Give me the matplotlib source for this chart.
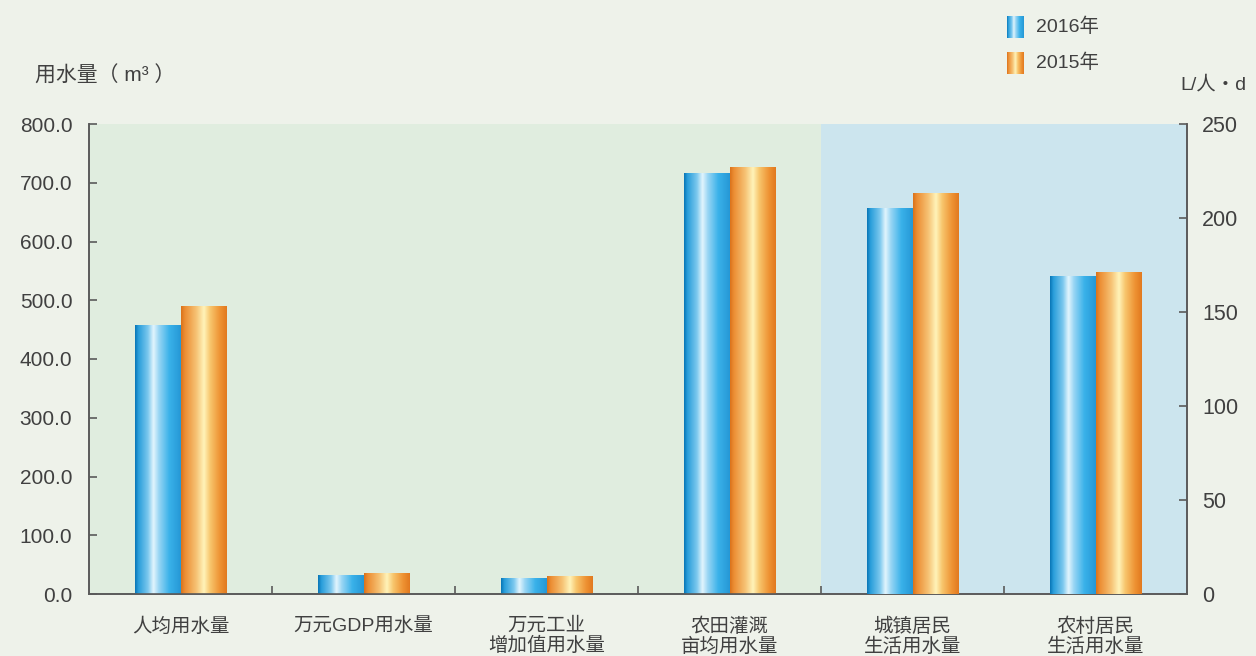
import numpy as np
import matplotlib
matplotlib.use("Agg")
import matplotlib.pyplot as plt
from matplotlib.colors import LinearSegmentedColormap

plt.rcParams['font.family'] = ['Liberation Sans', 'Noto Sans CJK SC', 'DejaVu Sans']

# water use indicators, 2016 vs 2015
categories = ['人均用水量', '万元GDP用水量', '万元工业\n增加值用水量',
              '农田灌溉\n亩均用水量', '城镇居民\n生活用水量', '农村居民\n生活用水量']
use_2016 = [457, 31, 27, 715, 205, 169]
use_2015 = [489, 35, 29, 726, 213, 171]
n_left = 4  # first four in m³, the rest in L/人·d on the right axis

left_ticks = [0, 100, 200, 300, 400, 500, 600, 700, 800]
right_ticks = [0, 50, 100, 150, 200, 250]

text_color = '#404040'
spine_color = '#5a5a5a'
fig_bg = '#eef2ea'
green_bg = '#e0eddf'
blue_bg = '#cce5ee'

blue_cmap = LinearSegmentedColormap.from_list('blue_bar', [
    (0.00, '#0a78b8'), (0.07, '#2a9edb'), (0.28, '#7cc8ee'), (0.40, '#e2f5fd'),
    (0.52, '#9ad6f4'), (0.75, '#3ab2ea'), (1.00, '#2698d6')])
orange_cmap = LinearSegmentedColormap.from_list('orange_bar', [
    (0.00, '#dc741c'), (0.08, '#ec8e34'), (0.33, '#f6c274'), (0.50, '#fff4ba'),
    (0.64, '#f8c56c'), (0.86, '#ee9232'), (1.00, '#e27a20')])
grad = np.linspace(0, 1, 64).reshape(1, -1)


def gradient_bars(ax, bars, cmap):
    for b in bars:
        x, y = b.get_x(), b.get_y()
        w, h = b.get_width(), b.get_height()
        ax.imshow(grad, cmap=cmap, aspect='auto', extent=[x, x + w, y, y + h],
                  interpolation='bilinear', zorder=3)
        b.set_visible(False)


fig = plt.figure(figsize=(12.56, 6.56), dpi=100)
fig.patch.set_facecolor(fig_bg)
ax = fig.add_axes([89 / 1256, 62 / 656, 1098 / 1256, 470 / 656])
ax2 = ax.twinx()
ax.set_facecolor('none')
ax2.patch.set_visible(False)

ax.axvspan(-0.5, n_left - 0.5, color=green_bg, zorder=0, lw=0)
ax.axvspan(n_left - 0.5, len(categories) - 0.5, color=blue_bg, zorder=0, lw=0)

x = np.arange(len(categories))
bw = 0.25
xl = x[:n_left]
xr = x[n_left:]
gradient_bars(ax, ax.bar(xl - bw / 2, use_2016[:n_left], bw), blue_cmap)
gradient_bars(ax, ax.bar(xl + bw / 2, use_2015[:n_left], bw), orange_cmap)
gradient_bars(ax2, ax2.bar(xr - bw / 2, use_2016[n_left:], bw), blue_cmap)
gradient_bars(ax2, ax2.bar(xr + bw / 2, use_2015[n_left:], bw), orange_cmap)

for a in (ax, ax2):
    a.set_xlim(-0.5, len(categories) - 0.5)
    for s in a.spines.values():
        s.set_color(spine_color)
        s.set_linewidth(1.2)
    a.spines['top'].set_visible(False)
ax.set_ylim(0, 800)
ax2.set_ylim(0, 250)

ax.set_yticks(left_ticks)
ax.set_yticklabels([f'{v:.1f}' for v in left_ticks])
ax2.set_yticks(right_ticks)
ax2.set_yticklabels([str(v) for v in right_ticks])
ax.tick_params(axis='y', direction='in', left=True, right=False, length=6,
               width=1.2, color=spine_color, labelsize=15, labelcolor=text_color,
               pad=12)
ax2.tick_params(axis='y', direction='in', left=False, right=True, length=6,
                width=1.2, color=spine_color, labelsize=15.5, labelcolor=text_color,
                pad=11)

# category labels sit between boundary ticks
ax.set_xticks(x)
ax.set_xticklabels(categories)
ax.tick_params(axis='x', which='major', length=0, labelsize=14,
               labelcolor=text_color, pad=17)
for lbl in ax.get_xticklabels():
    lbl.set_linespacing(1.12)
    lbl.set_va('top')
ax.set_xticks(np.arange(0.5, len(categories) - 0.5), minor=True)
ax.tick_params(axis='x', which='minor', direction='in', length=6, width=1.2,
               color=spine_color)

fig.text(35 / 1256, 1 - 76 / 656, '用水量（ m³ ）', fontsize=15, color=text_color,
         va='center', ha='left')
fig.text(1180 / 1256, 1 - 85 / 656, 'L/人・d', fontsize=14, color=text_color,
         va='center', ha='left')

# legend swatches
for cmap, y_top, label in [(blue_cmap, 16, '2016年'), (orange_cmap, 52, '2015年')]:
    sw = fig.add_axes([1007 / 1256, 1 - (y_top + 22) / 656, 17 / 1256, 22 / 656])
    sw.imshow(grad, cmap=cmap, aspect='auto', interpolation='bilinear')
    sw.axis('off')
    fig.text(1036 / 1256, 1 - (y_top + 11) / 656, label, fontsize=14,
             color=text_color, va='center', ha='left')

fig.savefig('out.png', dpi=100, facecolor=fig.get_facecolor())
